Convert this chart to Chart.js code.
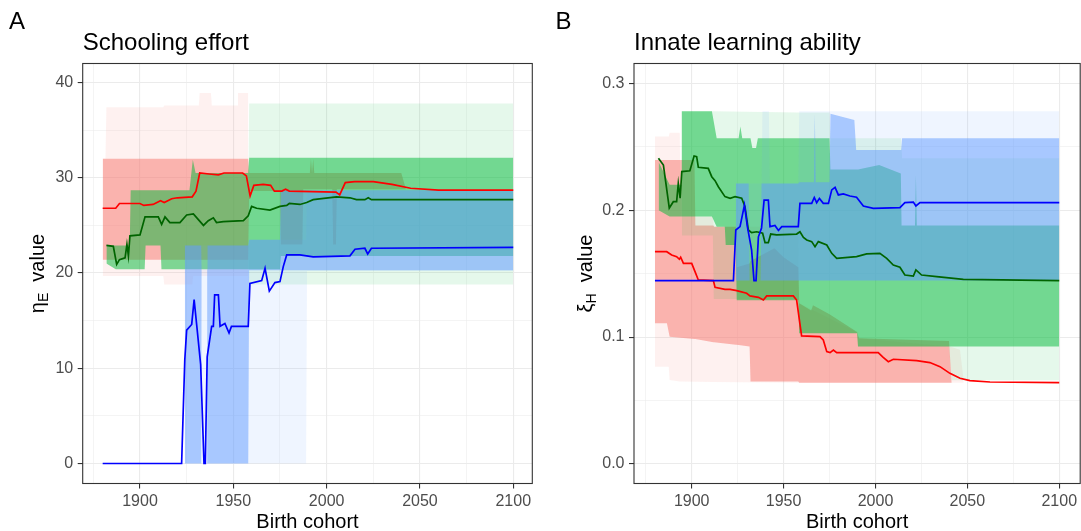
<!DOCTYPE html>
<html>
<head>
<meta charset="utf-8">
<title>Schooling effort and innate learning ability</title>
<script src="https://cdn.jsdelivr.net/npm/chart.js@4.4.1/dist/chart.umd.min.js"></script>
<style>
  body { margin: 0; background: #fff; }
  #wrap { position: relative; width: 1081px; height: 531px; }
  canvas { position: absolute; top: 0; }
</style>
</head>
<body>
<div id="wrap">
  <canvas id="chartA" width="540" height="531" style="left:0"></canvas>
  <canvas id="chartB" width="541" height="531" style="left:540px"></canvas>
</div>
<script>
// ---- axis ticks ----
const xTicks = [1875, 1900, 1925, 1950, 1975, 2000, 2025, 2050, 2075, 2100];
const xMajor = [1900, 1950, 2000, 2050, 2100];
const aYTicks = [0, 5, 10, 15, 20, 25, 30, 35, 40];
const aYMajor = [0, 10, 20, 30, 40];
const bYTicks = [0, 0.05, 0.1, 0.15, 0.2, 0.25, 0.3];
const bYMajor = [0, 0.1, 0.2, 0.3];

// ---- panel A: schooling effort, median lines ----
const aRedX = [1880,1887,1889,1900,1902,1907,1911,1913,1917,1920,1928,1930,1932,1937,1942,1945,1955,1957,1959,1961,1966,1970,1972,1976,1978,1980,2005,2007,2010,2015,2025,2035,2045,2060,2100];
const aRedY = [26.8,26.8,27.3,27.3,27.1,27.2,27.6,27.4,27.8,27.9,28.0,28.6,30.5,30.4,30.3,30.5,30.5,30.2,28.1,29.2,29.3,29.2,28.6,28.6,28.8,28.6,28.5,28.2,29.5,29.6,29.6,29.3,28.9,28.7,28.7];
const aGreenX = [1882,1885.7,1887.5,1889,1892,1893,1893.8,1894.6,1900,1902.7,1909.8,1911.6,1913.4,1916,1921.4,1925,1928.6,1934,1936.6,1939.3,1941,1944.6,1955.4,1958,1959.8,1962.5,1969.6,1975,1978.6,1980,1985.7,1989.3,1992.8,2005.3,2012.5,2016,2020.5,2022.3,2024,2057,2100];
const aGreenY = [22.9,22.8,20.9,21.4,21.6,23.0,21.8,23.9,24.0,25.9,25.9,25.1,25.9,25.3,25.3,26.1,26.2,25.0,25.5,25.8,25.3,25.4,25.5,26.0,27.0,26.8,26.6,27.0,27.1,27.3,27.2,27.4,27.7,28.0,27.9,27.7,27.7,27.9,27.7,27.7,27.7];
const aBlueX = [1880,1922.3,1924,1925,1927.7,1929,1930.4,1932.5,1934.3,1935,1936,1938.4,1939.3,1940,1942,1942.9,1945.5,1947.7,1949,1958,1958.9,1965.2,1967,1969.3,1972.3,1975,1976.8,1978.6,1985.7,1992.8,2012.5,2015.2,2020.5,2022,2024,2100];
const aBlueY = [0,0,10.9,14.0,14.6,17.2,14.5,10.4,0,0,11.2,14.4,14.4,17.7,17.7,14.4,14.7,13.7,14.4,14.4,18.9,19.2,20.5,18.1,19.0,19.1,20.7,21.9,21.9,21.7,21.8,22.5,22.6,22.0,22.6,22.7];

// ---- panel A: intervals (outer = wide, inner = narrow) ----
const aRedOutX  = [1880,1881.5,1882,1912.5,1913,1928,1928.5,1931.5,1932,1938,1938.5,1952,1952.5,1957.5,1958];
const aRedOutLo = [19.7,19.7,19.7,19.7,18.8,18.8,19.7,19.7,19.7,19.7,19.7,19.7,19.7,19.7,19.7];
const aRedOutHi = [32.0,32.0,37.4,37.4,37.6,37.6,37.6,37.6,38.9,38.9,37.6,37.6,38.9,38.9,38.9];
const aRedInX  = [1880,1958,1958.5,1975,1975.5,1987,1987.5,1991,1991.6,1992.2,1992.8,1993.4,2003,2003.5,2005,2005.5,2040,2042.5];
const aRedInLo = [21.4,21.4,28.6,28.6,23.0,23.0,28.8,28.8,28.8,28.8,28.8,28.8,28.8,23.0,23.0,28.8,28.8,28.8];
const aRedInHi = [32.0,32.0,30.5,30.5,30.5,30.5,30.5,30.5,32.0,30.5,32.0,30.5,30.5,30.5,30.5,30.5,30.5,28.8];
const aGreenOutX  = [1958,1958.5,2100];
const aGreenOutLo = [20.4,18.8,18.8];
const aGreenOutHi = [30.5,37.8,37.8];
const aGreenInX  = [1882,1887,1894.5,1895,1902.5,1903,1911,1911.5,1926.5,1928.3,1929.8,1958,1958.5,1975,1975.5,2100];
const aGreenInLo = [21.0,20.4,20.4,20.4,20.4,22.9,22.9,20.4,20.4,20.4,20.4,20.4,20.4,20.4,21.8,21.8];
const aGreenInHi = [22.9,22.9,22.9,28.7,28.7,28.7,28.7,28.7,28.7,31.9,30.5,30.5,32.1,32.1,32.1,32.1];
const aBlueOutX  = [1924,1958,1958.5,1989,1989.5,2100];
const aBlueOutLo = [0,0,0,0,20.2,20.2];
const aBlueOutHi = [22.9,22.9,23.5,23.5,28.7,28.7];
const aBlueInX  = [1924,1932.8,1933,1936,1936.2,1958,1958.5,1975,1975.5,2100];
const aBlueInLo = [0,0,20.4,20.4,0,0,20.3,20.3,20.3,20.3];
const aBlueInHi = [22.9,22.9,20.4,20.4,22.9,22.9,23.5,23.5,28.7,28.7];

// ---- panel B: innate learning ability, median lines ----
const bRedX = [1880,1886.4,1889.1,1891.8,1893.3,1894,1895.5,1900,1901.8,1903.6,1911.8,1912.7,1918.1,1920.9,1924.5,1929.9,1931.7,1936.3,1939,1940.8,1955.3,1957.1,1959.8,1969.8,1971.6,1973.5,1975.3,1977.1,1978.9,2001.5,2004.2,2007,2009.7,2022.4,2029.6,2035.1,2040.5,2046,2051.4,2062.3,2100];
const bRedY = [0.1673,0.1673,0.1647,0.1634,0.1613,0.1629,0.1581,0.1581,0.1516,0.145,0.1445,0.1392,0.1376,0.1376,0.1366,0.1345,0.1324,0.1313,0.1292,0.1324,0.1324,0.1292,0.1009,0.1003,0.0977,0.0885,0.0877,0.0898,0.0877,0.0877,0.084,0.0806,0.0825,0.0814,0.0799,0.0767,0.0714,0.0675,0.0657,0.0646,0.0641];
const bGreenX = [1881.9,1884.6,1887.8,1890,1891.8,1892.7,1893.7,1894.6,1899,1901.3,1902.7,1903.6,1909,1910.9,1912.7,1914.5,1918.1,1920.9,1923.6,1927.2,1929,1930.8,1932.6,1935.4,1938.6,1939.9,1941.7,1943,1946.2,1957.1,1958.9,1960.8,1962.6,1965.3,1967.1,1968.9,1973.5,1976.2,1978.9,1989.7,1995.2,2002.4,2006.1,2009.7,2013.3,2016,2020.6,2022,2025.1,2033.3,2047.8,2100];
const bGreenY = [0.2409,0.2356,0.2017,0.2067,0.2067,0.221,0.2094,0.2304,0.2311,0.2427,0.2422,0.2338,0.233,0.2264,0.2233,0.2185,0.2107,0.2094,0.2107,0.2094,0.2028,0.1844,0.1823,0.183,0.1818,0.1744,0.1744,0.1812,0.1805,0.1812,0.183,0.1786,0.1765,0.1752,0.1713,0.1752,0.1726,0.166,0.162,0.1634,0.1655,0.166,0.162,0.1568,0.155,0.1489,0.148,0.1529,0.1489,0.1476,0.1455,0.1445];
const bBlueX = [1880,1922.7,1924,1926.3,1928.7,1930.3,1932.6,1933.9,1935,1936.3,1938,1939.4,1941.7,1942.6,1945.3,1947.2,1949,1958,1958.9,1965.3,1966.7,1968,1969.5,1971.6,1974.4,1976.2,1978,1979.8,1982.5,1986.1,1989.7,1993.4,1998.8,2013.3,2016,2020.6,2022,2024.2,2100];
const bBlueY = [0.1445,0.1445,0.1844,0.1871,0.204,0.187,0.1686,0.1445,0.1445,0.179,0.186,0.208,0.208,0.187,0.188,0.184,0.187,0.187,0.2054,0.2054,0.21,0.2059,0.2093,0.2054,0.2054,0.216,0.218,0.212,0.2128,0.2112,0.2102,0.2033,0.2015,0.202,0.2059,0.2064,0.2033,0.2059,0.206];

// ---- panel B: intervals ----
const bRedOutX  = [1880,1887.5,1888,1893.5,1894,1911.5,1912,1958,1958.5,1990,1991,2040.5,2046,2048];
const bRedOutLo = [0.0767,0.0767,0.0662,0.065,0.065,0.0646,0.0646,0.064,0.064,0.064,0.064,0.064,0.064,0.064];
const bRedOutHi = [0.258,0.258,0.261,0.261,0.195,0.195,0.187,0.187,0.1266,0.104,0.099,0.0925,0.09,0.066];
const bRedInX  = [1880,1886.5,1888,1901.5,1902,1911.8,1912.2,1924,1924.5,1931.5,1932,1945,1950,1958,1958.5,1965,1966,1975,1990,1991,2040,2041.5];
const bRedInLo = [0.1108,0.1108,0.1003,0.0985,0.0985,0.096,0.096,0.094,0.094,0.0925,0.065,0.065,0.065,0.065,0.064,0.064,0.064,0.064,0.064,0.064,0.064,0.064];
const bRedInHi = [0.2396,0.2396,0.2396,0.2396,0.188,0.188,0.187,0.187,0.155,0.158,0.16,0.17,0.163,0.155,0.1266,0.121,0.125,0.118,0.104,0.099,0.097,0.064];
const bGreenOutX  = [1894.6,1911.5,1912,1958,1958.5,1975,1975.5,1990,1990.5,2014,2014.5,2040,2041.5,2100];
const bGreenOutLo = [0.18,0.18,0.13,0.13,0.103,0.103,0.103,0.103,0.0925,0.0925,0.0925,0.0925,0.066,0.066];
const bGreenOutHi = [0.278,0.278,0.278,0.277,0.277,0.277,0.2566,0.2566,0.2566,0.2566,0.241,0.241,0.241,0.241];
const bGreenInX  = [1882,1888,1894.4,1894.6,1911,1913.6,1918,1918.5,1924,1924.5,1925.5,1926.5,1927.5,1932,1933,1935,1936,1958,1958.5,1975,1975.5,1990,1990.5,2002,2013.8,2014.2,2021.5,2022,2022.5,2100];
const bGreenInLo = [0.2,0.195,0.195,0.195,0.195,0.187,0.187,0.1725,0.1725,0.129,0.129,0.129,0.129,0.129,0.129,0.129,0.129,0.129,0.103,0.103,0.103,0.103,0.0925,0.0925,0.0925,0.0925,0.0925,0.0925,0.0925,0.0925];
const bGreenInHi = [0.238,0.22,0.22,0.278,0.278,0.2566,0.2566,0.2566,0.2566,0.2566,0.2566,0.266,0.2566,0.2566,0.249,0.249,0.2566,0.2566,0.2566,0.2566,0.232,0.232,0.232,0.2356,0.229,0.188,0.188,0.228,0.188,0.188];
const bBlueOutX  = [1924,1938,1938.5,1942,1942.5,1958,1958.5,2100];
const bBlueOutLo = [0.1445,0.1445,0.1445,0.1445,0.1445,0.1445,0.1445,0.1445];
const bBlueOutHi = [0.221,0.221,0.278,0.278,0.221,0.221,0.278,0.278];
const bBlueInX  = [1924,1931,1931.5,1937.5,1938,1958,1958.5,1966.5,1967,1967.5,1975,1975.5,1988.5,1989.5,2014,2014.5,2100];
const bBlueInLo = [0.1445,0.1445,0.1445,0.1445,0.1445,0.1445,0.1445,0.1445,0.1445,0.1445,0.1445,0.1445,0.1445,0.1445,0.1445,0.1445,0.1445];
const bBlueInHi = [0.221,0.221,0.1445,0.1445,0.221,0.221,0.222,0.222,0.276,0.222,0.222,0.276,0.271,0.2475,0.2475,0.2566,0.2566];

// ---- styling ----
const FONT = '"Liberation Sans", Arial, Helvetica, sans-serif';
Chart.defaults.font.family = FONT;

const fillRed = a => 'rgba(248,118,109,' + a + ')';
const fillGreen = a => 'rgba(0,186,56,' + a + ')';
const fillBlue = a => 'rgba(97,156,255,' + a + ')';
const OUT = 0.1, IN = 0.5;

function pts(xs, ys) {
    return xs.map((x, i) => ({x: x, y: ys[i]}));
}

// two datasets per ribbon: lower edge, then upper edge filled down to it
function band(xs, lo, hi, color, order) {
    return [
        {data: pts(xs, lo), borderColor: 'transparent', borderWidth: 0, pointRadius: 0, fill: false, order: order},
        {data: pts(xs, hi), borderColor: 'transparent', borderWidth: 0, pointRadius: 0, fill: '-1', backgroundColor: color, order: order}
    ];
}

function line(xs, ys, color, order) {
    return {data: pts(xs, ys), borderColor: color, borderWidth: 1.7, pointRadius: 0, tension: 0, fill: false, order: order};
}

const decor = {
    id: 'decor',
    afterDraw(chart, args, o) {
        const ctx = chart.ctx;
        const a = chart.chartArea;
        ctx.save();
        ctx.strokeStyle = '#333333';
        ctx.lineWidth = 1.1;
        ctx.strokeRect(a.left, a.top, a.right - a.left, a.bottom - a.top);

        ctx.fillStyle = '#000';
        ctx.textBaseline = 'alphabetic';
        ctx.textAlign = 'left';
        ctx.font = '24px ' + FONT;
        ctx.fillText(o.tag, o.tagX, 28.5);
        ctx.fillText(o.title, a.left, 50);

        ctx.font = '20px ' + FONT;
        ctx.textAlign = 'center';
        ctx.fillText('Birth cohort', (a.left + a.right) / 2, 527.5);

        // y title with a subscript
        ctx.translate(o.yTitleX, (a.top + a.bottom) / 2);
        ctx.rotate(-Math.PI / 2);
        ctx.textAlign = 'left';
        const big = '20px ' + FONT, small = '14px ' + FONT;
        ctx.font = big;
        const w1 = ctx.measureText(o.sym).width;
        const w3 = ctx.measureText('value').width;
        ctx.font = small;
        const w2 = ctx.measureText(o.sub).width;
        const gap = 11;
        const x0 = -(w1 + w2 + gap + w3) / 2;
        ctx.font = big;
        ctx.fillText(o.sym, x0, 0);
        ctx.font = small;
        ctx.fillText(o.sub, x0 + w1, 4);
        ctx.font = big;
        ctx.fillText('value', x0 + w1 + w2 + gap, 0);
        ctx.restore();
    }
};

function makeChart(id, p) {
    const isMajX = v => xMajor.includes(v);
    const isMajY = v => p.yMajor.includes(v);
    new Chart(document.getElementById(id), {
        type: 'line',
        data: {datasets: p.datasets},
        plugins: [decor],
        options: {
            responsive: false,
            animation: false,
            events: [],
            layout: {padding: {left: 0, right: p.padRight, top: 63.5, bottom: 0}},
            plugins: {
                legend: {display: false},
                tooltip: {enabled: false},
                filler: {drawTime: 'beforeDatasetDraw'},
                decor: {tag: p.tag, tagX: p.tagX, title: p.title, sym: p.sym, sub: p.sub, yTitleX: p.yTitleX}
            },
            scales: {
                x: {
                    type: 'linear',
                    min: p.xMin,
                    max: p.xMax,
                    afterBuildTicks: s => { s.ticks = xTicks.map(v => ({value: v})); },
                    afterFit: s => { s.height = 47.5; },
                    border: {display: false},
                    grid: {
                        color: '#EBEBEB',
                        lineWidth: c => (c.tick && isMajX(c.tick.value)) ? 1.1 : 0.55,
                        tickColor: c => (c.tick && isMajX(c.tick.value)) ? '#333333' : 'rgba(0,0,0,0)',
                        tickLength: 5,
                        tickWidth: 1.1
                    },
                    ticks: {
                        autoSkip: false,
                        maxRotation: 0,
                        padding: 3,
                        color: '#4D4D4D',
                        font: {size: 16},
                        callback: v => isMajX(v) ? String(v) : ''
                    }
                },
                y: {
                    type: 'linear',
                    min: p.yMin,
                    max: p.yMax,
                    afterBuildTicks: s => { s.ticks = p.yTicks.map(v => ({value: v})); },
                    afterFit: s => { s.width = p.left; },
                    border: {display: false},
                    grid: {
                        color: '#EBEBEB',
                        lineWidth: c => (c.tick && isMajY(c.tick.value)) ? 1.1 : 0.55,
                        tickColor: c => (c.tick && isMajY(c.tick.value)) ? '#333333' : 'rgba(0,0,0,0)',
                        tickLength: 5,
                        tickWidth: 1.1
                    },
                    ticks: {
                        autoSkip: false,
                        padding: 4.5,
                        color: '#4D4D4D',
                        font: {size: 16},
                        callback: v => isMajY(v) ? p.fmt(v) : ''
                    }
                }
            }
        }
    });
}

makeChart('chartA', {
    datasets: [].concat(
        band(aRedOutX, aRedOutLo, aRedOutHi, fillRed(OUT), 7),
        band(aRedInX, aRedInLo, aRedInHi, fillRed(IN), 6),
        band(aGreenOutX, aGreenOutLo, aGreenOutHi, fillGreen(OUT), 5),
        band(aGreenInX, aGreenInLo, aGreenInHi, fillGreen(IN), 4),
        band(aBlueOutX, aBlueOutLo, aBlueOutHi, fillBlue(OUT), 3),
        band(aBlueInX, aBlueInLo, aBlueInHi, fillBlue(IN), 2),
        [line(aRedX, aRedY, '#FF0000', 1.2), line(aGreenX, aGreenY, '#006400', 1.1), line(aBlueX, aBlueY, '#0000FF', 1.0)]
    ),
    xMin: 1869.3, xMax: 2110.2,
    yMin: -2.1, yMax: 42.0,
    yTicks: aYTicks, yMajor: aYMajor, fmt: v => String(v),
    left: 82.7, padRight: 7.7,
    tag: 'A', tagX: 9, title: 'Schooling effort',
    sym: 'η', sub: 'E', yTitleX: 44
});

makeChart('chartB', {
    datasets: [].concat(
        band(bRedOutX, bRedOutLo, bRedOutHi, fillRed(OUT), 7),
        band(bRedInX, bRedInLo, bRedInHi, fillRed(IN), 6),
        band(bGreenOutX, bGreenOutLo, bGreenOutHi, fillGreen(OUT), 5),
        band(bGreenInX, bGreenInLo, bGreenInHi, fillGreen(IN), 4),
        band(bBlueOutX, bBlueOutLo, bBlueOutHi, fillBlue(OUT), 3),
        band(bBlueInX, bBlueInLo, bBlueInHi, fillBlue(IN), 2),
        [line(bRedX, bRedY, '#FF0000', 1.2), line(bGreenX, bGreenY, '#006400', 1.1), line(bBlueX, bBlueY, '#0000FF', 1.0)]
    ),
    xMin: 1868.6, xMax: 2111.4,
    yMin: -0.0154, yMax: 0.3156,
    yTicks: bYTicks, yMajor: bYMajor, fmt: v => v.toFixed(1),
    left: 94, padRight: 0.8,
    tag: 'B', tagX: 15.6, title: 'Innate learning ability',
    sym: 'ξ', sub: 'H', yTitleX: 52
});
</script>
</body>
</html>
